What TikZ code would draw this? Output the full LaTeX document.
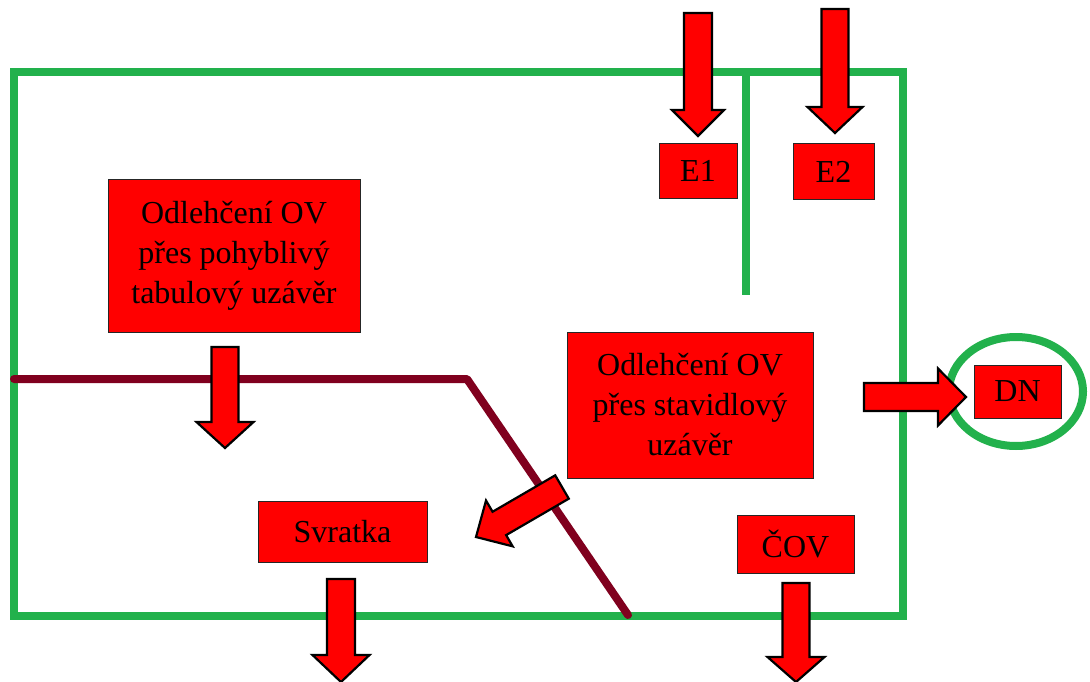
\documentclass[tikz,border=0pt]{standalone}
\usepackage{fontspec}
\setmainfont{Liberation Serif}
\usetikzlibrary{calc}
\definecolor{pgreen}{RGB}{34,177,76}
\definecolor{damred}{RGB}{128,0,30}
\tikzset{
  box/.style={draw=black!85, line width=1pt, fill=red, inner sep=0pt, align=center,
    font=\fontsize{32}{40}\selectfont, text=black},
  arrowbox/.style={fill=red, draw=black, line width=2.2pt, line join=miter},
  wall/.style={draw=pgreen, line width=8pt},
  dam/.style={draw=damred, line width=8pt, line cap=round, line join=round}
}
% #1 tail, #2 tip, #3 shaft half width, #4 head half width, #5 head length
\newcommand{\blockarr}[5]{%
  \coordinate (bahead) at ($(#2)!#5!(#1)$);
  \path[arrowbox] ($(#1)!#3!90:(#2)$) -- ($(bahead)!#3!-90:(#1)$) -- ($(bahead)!#4!-90:(#1)$)
    -- (#2) -- ($(bahead)!#4!90:(#1)$) -- ($(bahead)!#3!90:(#1)$) -- ($(#1)!#3!-90:(#2)$) -- cycle;
}
\begin{document}
\begin{tikzpicture}[x=1pt,y=-1pt]
\useasboundingbox (0,0) rectangle (1090,682);
% enclosure
\draw[wall] (14,72) rectangle (903,616);
\draw[wall] (746,72) -- (746,295);
\draw[wall] (1016,391.5) ellipse [x radius=67pt, y radius=54.5pt];
% weir line
\draw[dam] (14,379) -- (467,379) -- (628,615);
% boxes
\node[box, minimum width=252pt, minimum height=152pt] (tab) at (234,256) {Odlehčení OV\\přes pohyblivý\\tabulový uzávěr};
\node[box, minimum width=78pt, minimum height=54pt] (e1) at (698,171) {E1};
\node[box, minimum width=81pt, minimum height=55pt] (e2) at (833.5,171.5) {E2};
\node[box, minimum width=246pt, minimum height=146pt] (stav) at (690,405) {Odlehčení OV\\přes stavidlový\\uzávěr};
\node[box, minimum width=87pt, minimum height=53pt] (dn) at (1017.5,391.5) {DN};
\node[box, minimum width=169pt, minimum height=61pt] (svr) at (342.5,531.5) {Svratka};
\node[box, minimum width=117pt, minimum height=58pt] (cov) at (795.5,544) {ČOV};
% block arrows
\coordinate (a1s) at (698,13);   \coordinate (a1e) at (698,136);
\coordinate (a2s) at (835,9);    \coordinate (a2e) at (835,133);
\coordinate (a3s) at (225,347);  \coordinate (a3e) at (225,448);
\coordinate (a4s) at (341,579);  \coordinate (a4e) at (341,682);
\coordinate (a5s) at (796,583);  \coordinate (a5e) at (796,682);
\coordinate (a6s) at (864,397);  \coordinate (a6e) at (966,397);
\coordinate (a7s) at (562,487);  \coordinate (a7e) at (476,537);
\blockarr{a1s}{a1e}{14pt}{26pt}{26pt}
\blockarr{a2s}{a2e}{13.5pt}{27.5pt}{26pt}
\blockarr{a3s}{a3e}{13.5pt}{28.5pt}{26pt}
\blockarr{a4s}{a4e}{14pt}{28.5pt}{27pt}
\blockarr{a5s}{a5e}{13.5pt}{28.5pt}{25pt}
\blockarr{a6s}{a6e}{14pt}{28.5pt}{28pt}
\blockarr{a7s}{a7e}{13.5pt}{26.5pt}{27pt}
\end{tikzpicture}
\end{document}
